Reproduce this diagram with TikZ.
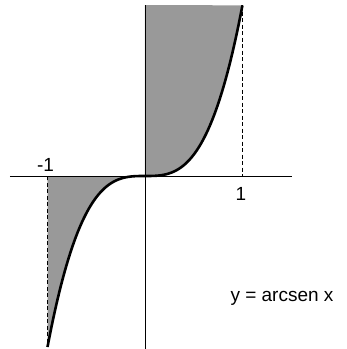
\documentclass[tikz,border=0pt]{standalone}
\usepackage{fontspec}
\setmainfont{Liberation Sans}
\begin{document}
\begin{tikzpicture}[x=1pt,y=1pt,
  axis/.style={line width=0.9pt},
  curve/.style={line width=2.6pt},
  guide/.style={line width=0.9pt,dash pattern=on 4pt off 2.5pt},
  shade/.style={fill=black!40},
  lbl/.style={font=\fontsize{19}{22}\selectfont,inner sep=0pt}]
\useasboundingbox (-145,-173) rectangle (202,176);
% shaded regions
\fill[shade] (0,0) -- plot[domain=0:1,samples=60,smooth] ({97.5*\x},{171*\x*\x*\x}) -- (0,171) -- cycle;
\fill[shade] (0,0) -- plot[domain=0:-1,samples=60,smooth] ({97.5*\x},{171*\x*\x*\x}) -- (-97.5,0) -- cycle;
% guides
\coordinate (rtop) at (97.5,171);
\coordinate (rbot) at (97.5,0);
\coordinate (ltop) at (-97.5,0);
\coordinate (lbot) at (-97.5,-171);
\draw[guide] (rtop) -- (rbot);
\draw[guide] (ltop) -- (lbot);
% axes
\coordinate (xl) at (-135,0);
\coordinate (xr) at (147,0);
\coordinate (yt) at (0,171);
\coordinate (yb) at (0,-173);
\draw[axis] (xl) -- (xr);
\draw[axis] (yt) -- (yb);
% curve
\draw[curve] plot[domain=-1:1,samples=120,smooth] ({97.5*\x},{171*\x*\x*\x});
% labels
\node[lbl] (m1) at (-99.5,11) {-1};
\node[lbl] (p1) at (96,-18) {1};
\node[lbl] (eq) at (137,-122) {y = arcsen x};
\end{tikzpicture}
\end{document}
